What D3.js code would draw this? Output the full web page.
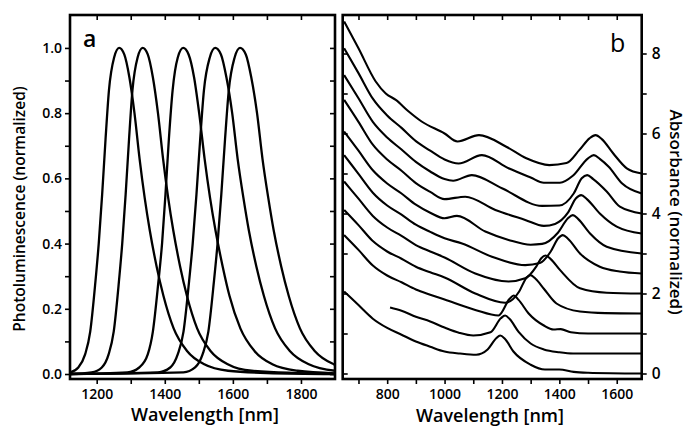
<!DOCTYPE html>
<html>
<head>
<meta charset="utf-8">
<script src="https://cdn.jsdelivr.net/npm/d3@7"></script>
<style>
  body { margin: 0; background: #fff; overflow: hidden; }
  text { font-family: "Open Sans", sans-serif; fill: #000; }
</style>
</head>
<body>
<div id="chart"></div>
<script>
// ---- panel a: photoluminescence, [wavelength nm, normalized PL]
var pl1266 = [[1120,0.004],[1146,0.02],[1166,0.06],[1181,0.13],[1196,0.28],[1206,0.4],[1216,0.55],[1226,0.72],[1236,0.87],[1251,0.97],[1266,1.0],[1281,0.98],[1296,0.91],[1311,0.8],[1326,0.66],[1341,0.54],[1356,0.44],[1376,0.33],[1396,0.24],[1426,0.14],[1466,0.07],[1516,0.03],[1586,0.01],[1700,0.003],[1900,0.0]];
var pl1335 = [[1120,0],[1185,0.005],[1215,0.02],[1235,0.06],[1250,0.13],[1265,0.28],[1275,0.4],[1285,0.55],[1295,0.72],[1305,0.87],[1320,0.97],[1335,1.0],[1350,0.98],[1365,0.91],[1380,0.8],[1395,0.66],[1410,0.54],[1425,0.44],[1445,0.33],[1465,0.24],[1495,0.14],[1535,0.07],[1585,0.03],[1655,0.01],[1900,0]];
var pl1454 = [[1120,0],[1290,0.005],[1325,0.02],[1350,0.06],[1365,0.13],[1381,0.28],[1392,0.4],[1402,0.55],[1412,0.72],[1423,0.87],[1438,0.97],[1454,1.0],[1470,0.98],[1486,0.91],[1501,0.8],[1517,0.66],[1533,0.54],[1549,0.44],[1570,0.33],[1590,0.24],[1622,0.14],[1664,0.07],[1716,0.03],[1790,0.01],[1900,0.002]];
var pl1548 = [[1120,0],[1380,0.005],[1416,0.02],[1438,0.06],[1455,0.13],[1471,0.28],[1482,0.4],[1493,0.55],[1504,0.72],[1515,0.87],[1532,0.97],[1548,1.0],[1565,0.98],[1581,0.91],[1598,0.8],[1614,0.66],[1631,0.54],[1647,0.44],[1669,0.33],[1691,0.24],[1724,0.14],[1768,0.07],[1823,0.03],[1900,0.01]];
var pl1621 = [[1120,0],[1455,0.005],[1489,0.02],[1511,0.06],[1528,0.13],[1544,0.28],[1555,0.4],[1566,0.55],[1577,0.72],[1588,0.87],[1605,0.97],[1621,1.0],[1638,0.98],[1654,0.91],[1671,0.8],[1687,0.66],[1704,0.54],[1720,0.44],[1742,0.33],[1764,0.24],[1797,0.14],[1841,0.07],[1896,0.03],[1900,0.028]];

// ---- panel b: absorbance, stacked, [wavelength nm, normalized absorbance + offset]
var absA = [[650,8.8],[700,8.13],[760,7.3],[795,7.0],[830,6.84],[875,6.55],[920,6.3],[1000,6.0],[1045,5.8],[1120,5.96],[1215,5.67],[1285,5.38],[1365,5.21],[1425,5.26],[1470,5.59],[1505,5.88],[1526,5.96],[1548,5.86],[1588,5.5],[1635,5.13],[1687,5.0]];
var absB = [[650,8.13],[700,7.51],[750,6.87],[800,6.45],[850,6.14],[900,5.81],[950,5.57],[1000,5.35],[1049,5.25],[1130,5.46],[1223,5.13],[1300,4.9],[1346,4.77],[1402,4.77],[1448,4.95],[1500,5.38],[1520,5.46],[1542,5.36],[1572,5.17],[1619,4.75],[1687,4.5]];
var absC = [[650,7.46],[700,6.88],[750,6.29],[800,5.9],[850,5.6],[900,5.29],[950,5.05],[1000,4.86],[1030,4.82],[1095,4.96],[1200,4.63],[1340,4.19],[1400,4.2],[1450,4.5],[1478,4.88],[1497,4.96],[1518,4.86],[1565,4.55],[1611,4.17],[1687,4.0]];
var absD = [[650,6.84],[700,6.29],[750,5.72],[800,5.35],[850,5.07],[900,4.76],[950,4.54],[1000,4.36],[1072,4.42],[1177,4.09],[1281,3.84],[1346,3.69],[1385,3.74],[1430,4.02],[1458,4.38],[1476,4.46],[1496,4.36],[1541,4.0],[1600,3.67],[1687,3.5]];
var absE = [[650,6.05],[700,5.57],[750,5.08],[800,4.75],[850,4.5],[900,4.22],[950,4.02],[1000,3.88],[1043,3.94],[1142,3.55],[1223,3.34],[1300,3.22],[1340,3.24],[1395,3.52],[1430,3.88],[1447,3.96],[1466,3.86],[1507,3.5],[1565,3.17],[1687,3.0]];
var absF = [[650,5.46],[700,4.99],[750,4.52],[800,4.2],[850,3.97],[900,3.72],[950,3.54],[1000,3.38],[1061,3.25],[1165,2.92],[1281,2.71],[1332,2.76],[1370,3.05],[1396,3.38],[1412,3.46],[1430,3.37],[1472,3.0],[1541,2.67],[1610,2.55],[1687,2.5]];
var absG = [[650,4.8],[700,4.37],[750,3.94],[800,3.65],[850,3.44],[900,3.21],[950,3.05],[1000,2.9],[1107,2.5],[1223,2.3],[1281,2.38],[1320,2.68],[1337,2.88],[1352,2.95],[1370,2.86],[1402,2.59],[1472,2.13],[1565,2.02],[1687,2.0]];
var absH = [[650,4.09],[700,3.71],[750,3.31],[800,3.05],[850,2.87],[900,2.67],[950,2.53],[1000,2.4],[1107,2.0],[1211,1.77],[1260,2.05],[1284,2.38],[1299,2.46],[1317,2.37],[1346,2.12],[1390,1.75],[1472,1.55],[1560,1.51],[1687,1.5]];
var absI = [[650,3.46],[700,3.09],[750,2.7],[800,2.45],[850,2.28],[900,2.1],[950,1.97],[1000,1.85],[1107,1.59],[1188,1.45],[1226,1.86],[1241,1.95],[1258,1.84],[1293,1.5],[1346,1.2],[1380,1.1],[1405,1.11],[1440,1.03],[1500,1.0],[1687,1.0]];
var absJ = [[810,1.65],[850,1.57],[900,1.42],[950,1.3],[1000,1.15],[1050,1.02],[1100,0.95],[1160,1.03],[1196,1.38],[1211,1.45],[1227,1.36],[1258,1.04],[1300,0.75],[1346,0.6],[1400,0.53],[1448,0.5],[1687,0.5]];
var absK = [[650,2.05],[700,1.71],[750,1.37],[800,1.14],[850,0.97],[900,0.8],[950,0.67],[1000,0.55],[1054,0.5],[1110,0.47],[1150,0.6],[1180,0.88],[1194,0.95],[1210,0.87],[1240,0.55],[1300,0.22],[1350,0.1],[1400,0.1],[1450,0.04],[1500,0.02],[1687,0.0]];

var plCurves = [pl1266, pl1335, pl1454, pl1548, pl1621];
var absCurves = [absA, absB, absC, absD, absE, absF, absG, absH, absI, absJ, absK];

// tick values
var aTicksX = [1200, 1300, 1400, 1500, 1600, 1700, 1800];
var aLabelsX = [1200, 1400, 1600, 1800];
var aTicksY = [0, 0.1, 0.2, 0.3, 0.4, 0.5, 0.6, 0.7, 0.8, 0.9, 1.0];
var aLabelsY = [0, 0.2, 0.4, 0.6, 0.8, 1.0];
var bTicksX = [700, 800, 900, 1000, 1100, 1200, 1300, 1400, 1500, 1600];
var bLabelsX = [800, 1000, 1200, 1400, 1600];
var bTicksY = [0, 1, 2, 3, 4, 5, 6, 7, 8];
var bLabelsY = [0, 2, 4, 6, 8];

(function() {
var width = 688, height = 427;
var svg = d3.select("#chart").append("svg")
    .attr("width", width)
    .attr("height", height);

// --> panel geometry
var yTop = 15, yBot = 379;
var xa = d3.scaleLinear().domain([1121.6, 1900]).range([70, 335]);
var ya = d3.scaleLinear().domain([-0.0153, 1.101]).range([yBot, yTop]);
var xb = d3.scaleLinear().domain([645, 1687]).range([342.7, 641.7]);
var yb = d3.scaleLinear().domain([-0.1375, 8.9625]).range([yBot, yTop]);

function has(list, v) {
    return list.some(function(d) { return Math.abs(d - v) < 1e-6; });
}

function styleAxis(g, size) {
    g.select(".domain").remove();
    g.selectAll(".tick line").attr("stroke", "#000").attr("stroke-width", 1.6);
    g.selectAll(".tick text")
        .style("font-family", "'Open Sans', sans-serif")
        .style("font-size", size + "px")
        .style("font-weight", 600)
        .attr("fill", "#000");
}

// clip paths
var defs = svg.append("defs");
defs.append("clipPath").attr("id", "clipA").append("rect")
    .attr("x", 70).attr("y", yTop).attr("width", 265).attr("height", yBot - yTop);
defs.append("clipPath").attr("id", "clipB").append("rect")
    .attr("x", 342.7).attr("y", yTop).attr("width", 299).attr("height", yBot - yTop);

// ===== panel a =====
var lineA = d3.line()
    .x(function(d) { return xa(d[0]); })
    .y(function(d) { return ya(d[1]); })
    .curve(d3.curveMonotoneX);

svg.append("g").attr("clip-path", "url(#clipA)")
    .selectAll("path")
    .data(plCurves)
    .enter().append("path")
    .attr("d", lineA)
    .attr("fill", "none")
    .attr("stroke", "#000")
    .attr("stroke-width", 2.3)
    .attr("stroke-linejoin", "round");

svg.append("g").attr("transform", "translate(70,0)")
    .call(d3.axisLeft(ya).tickValues(aTicksY).tickSize(5).tickPadding(3)
        .tickFormat(function(d) { return has(aLabelsY, d) ? d.toFixed(1) : ""; }))
    .call(styleAxis, 14);

svg.append("g").attr("transform", "translate(335,0)")
    .call(d3.axisRight(ya).tickValues(aTicksY).tickSize(-5).tickFormat(""))
    .call(styleAxis, 14);

svg.append("g").attr("transform", "translate(0," + yBot + ")")
    .call(d3.axisBottom(xa).tickValues(aTicksX).tickSize(5).tickPadding(5)
        .tickFormat(function(d) { return has(aLabelsX, d) ? d : ""; }))
    .call(styleAxis, 14);

svg.append("g").attr("transform", "translate(0," + yTop + ")")
    .call(d3.axisTop(xa).tickValues(aTicksX).tickSize(-5).tickFormat(""))
    .call(styleAxis, 14);

svg.append("rect")
    .attr("x", 70).attr("y", yTop).attr("width", 265).attr("height", yBot - yTop)
    .attr("fill", "none").attr("stroke", "#000").attr("stroke-width", 2.6);

svg.append("text").attr("x", 83).attr("y", 47)
    .style("font-size", "23px").style("font-weight", 600).text("a");

svg.append("text")
    .attr("transform", "translate(25,209) rotate(-90)")
    .attr("text-anchor", "middle")
    .style("font-size", "15.5px").style("font-weight", 600)
    .text("Photoluminescence (normalized)");

svg.append("text").attr("x", 205).attr("y", 421)
    .attr("text-anchor", "middle")
    .style("font-size", "18px").style("font-weight", 600)
    .text("Wavelength [nm]");

// ===== panel b =====
var lineB = d3.line()
    .x(function(d) { return xb(d[0]); })
    .y(function(d) { return yb(d[1]); })
    .curve(d3.curveMonotoneX);

svg.append("g").attr("clip-path", "url(#clipB)")
    .selectAll("path")
    .data(absCurves)
    .enter().append("path")
    .attr("d", lineB)
    .attr("fill", "none")
    .attr("stroke", "#000")
    .attr("stroke-width", 2.1)
    .attr("stroke-linejoin", "round");

svg.append("g").attr("transform", "translate(342.7,0)")
    .call(d3.axisLeft(yb).tickValues(bTicksY).tickSize(-5).tickFormat(""))
    .call(styleAxis, 14);

svg.append("g").attr("transform", "translate(641.7,0)")
    .call(d3.axisRight(yb).tickValues(bTicksY).tickSize(5).tickPadding(5)
        .tickFormat(function(d) { return has(bLabelsY, d) ? d : ""; }))
    .call(styleAxis, 15.5);

svg.append("g").attr("transform", "translate(0," + yBot + ")")
    .call(d3.axisBottom(xb).tickValues(bTicksX).tickSize(5).tickPadding(5)
        .tickFormat(function(d) { return has(bLabelsX, d) ? d : ""; }))
    .call(styleAxis, 14);

svg.append("g").attr("transform", "translate(0," + yTop + ")")
    .call(d3.axisTop(xb).tickValues(bTicksX).tickSize(-5).tickFormat(""))
    .call(styleAxis, 14);

svg.append("rect")
    .attr("x", 342.7).attr("y", yTop).attr("width", 299).attr("height", yBot - yTop)
    .attr("fill", "none").attr("stroke", "#000").attr("stroke-width", 2.6);

svg.append("text").attr("x", 610).attr("y", 52)
    .style("font-size", "25px").style("font-weight", 400).text("b");

svg.append("text")
    .attr("transform", "translate(670,212) rotate(90)")
    .attr("text-anchor", "middle")
    .style("font-size", "17px").style("font-weight", 600)
    .text("Absorbance (normalized)");

svg.append("text").attr("x", 490).attr("y", 422)
    .attr("text-anchor", "middle")
    .style("font-size", "18px").style("font-weight", 600)
    .text("Wavelength [nm]");
})();
</script>
</body>
</html>
